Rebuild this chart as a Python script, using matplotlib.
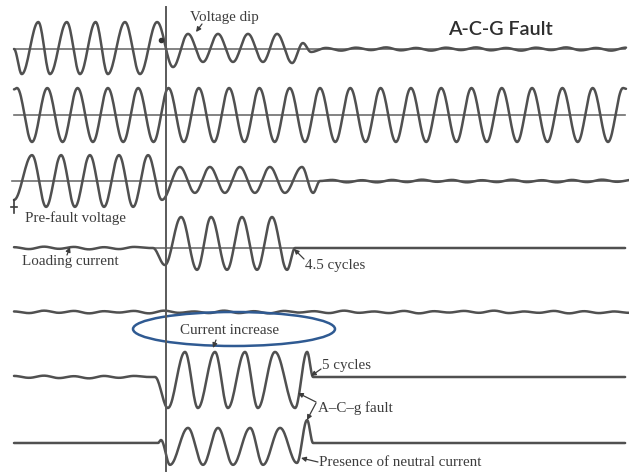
"""
A-C-G fault record: phase voltages, phase currents and neutral current.
"""

import numpy as np
import matplotlib
matplotlib.use('Agg')
import matplotlib.pyplot as plt
from matplotlib.patches import Ellipse

# ── Data: extrema of each trace (time in cycles, value in per unit) ─────────
va_t = [0.0, 0.26, 0.81, 1.2, 1.76, 2.2, 2.72, 3.13, 3.7, 4.2, 4.77,
        5.3, 5.8, 6.3, 6.8, 7.3, 7.8, 8.3, 8.77, 9.27, 9.63, 9.9]
va_v = [0.0, -0.93, 1.0, -0.93, 1.0, -0.93, 1.0, -0.93, 1.0, -0.93, 1.0,
        -0.67, 0.56, -0.48, 0.56, -0.48, 0.56, -0.48, 0.56, -0.52, 0.22, -0.11]
va_ripple = [0.04, -0.06, 0.05, -0.04, 0.06, -0.05, 0.04, -0.06, 0.05, -0.04,
             0.06, -0.05, 0.04, -0.06, 0.05, -0.04, 0.06, -0.05, 0.04, -0.06, 0.05]

vb_t = [0.0, 0.1, 0.6, 1.11, 1.62, 2.12, 2.63, 3.13, 3.64, 4.14, 4.65,
        5.15, 5.66, 6.16, 6.67, 7.17, 7.68, 8.18, 8.69, 9.19, 9.7,
        10.2, 10.71, 11.21, 11.72, 12.22, 12.73, 13.23, 13.74, 14.24, 14.75,
        15.25, 15.76, 16.26, 16.77, 17.27, 17.78, 18.28, 18.79, 19.29, 19.8,
        20.3, 20.4]
vb_v = [0.95, 1.0, -1.0, 1.0, -1.0, 1.0, -1.0, 1.0, -1.0, 1.0, -1.0,
        1.0, -1.0, 1.0, -1.0, 1.0, -1.0, 1.0, -1.0, 1.0, -1.0,
        1.0, -1.0, 1.0, -1.0, 1.0, -1.0, 1.0, -1.0, 1.0, -1.0,
        1.0, -1.0, 1.0, -1.0, 1.0, -1.0, 1.0, -1.0, 1.0, -1.0,
        1.0, 0.97]

vc_t = [0.0, 0.6, 1.07, 1.57, 2.03, 2.53, 3.0, 3.5, 3.97, 4.47, 4.93,
        5.53, 6.03, 6.53, 7.03, 7.53, 8.03, 8.53, 9.03, 9.6, 9.97, 10.2]
vc_v = [-0.7, 0.96, -0.96, 0.96, -0.96, 0.96, -0.96, 0.96, -0.96, 0.96, -0.7,
        0.52, -0.44, 0.52, -0.44, 0.52, -0.44, 0.52, -0.44, 0.52, -0.44, 0.0]
vc_ripple = [0.04, -0.05, 0.03, -0.05, 0.04, -0.04, 0.05, -0.03, 0.04, -0.05,
             0.03, -0.04, 0.05, -0.04, 0.03, -0.05, 0.04, -0.04, 0.05, -0.03, 0.04]

ia_ripple = [0.03, -0.04, 0.05, -0.03, 0.04, -0.05, 0.03, -0.04, 0.04, 0.0]
ia_t = [4.63, 5.03, 5.57, 6.1, 6.57, 7.1, 7.6, 8.1, 8.6, 9.1, 9.37, 20.37]
ia_v = [0.0, -0.63, 1.15, -0.81, 1.15, -0.81, 1.15, -0.81, 1.15, -0.81, 0.0, 0.0]

ib_ripple = [0.02, -0.04, 0.05, -0.03, 0.04, -0.05, 0.03, -0.02, 0.04, -0.05,
             0.05, -0.03, 0.02, -0.04, 0.05, -0.04, 0.03, -0.05, 0.04, -0.02,
             0.03, -0.04, 0.05, -0.03, 0.02, -0.04, 0.04, -0.05, 0.03, -0.02,
             0.04, -0.03, 0.05, -0.04, 0.02, -0.03, 0.04, -0.05, 0.03, -0.04,
             0.02, -0.03]

ic_ripple = [0.04, -0.03, 0.05, -0.04, 0.03, -0.05, 0.04, -0.03, 0.04, 0.0]
ic_t = [4.7, 5.13, 5.7, 6.13, 6.7, 7.13, 7.7, 8.13, 8.7, 9.37, 9.77, 9.97, 20.37]
ic_v = [0.0, -1.15, 0.93, -1.15, 0.93, -1.15, 0.93, -1.15, 0.93, -1.15, 0.93, 0.0, 0.0]

in_t = [0.0, 4.8, 4.9, 5.2, 5.8, 6.3, 6.8, 7.3, 7.87, 8.3, 8.87, 9.43, 9.77, 9.97, 20.37]
in_v = [0.0, 0.0, 0.11, -0.81, 0.56, -0.81, 0.56, -0.81, 0.56, -0.81, 0.56,
        -0.74, 0.85, 0.0, 0.0]

# ── Layout (pixels of the 629x474 picture) ──────────────────────────────────
W, H = 629, 474
X0, PX_CYC, PX_PU = 14, 30.0, 27.0
FAULT_X = 166
WAVE = '#505050'
AXIS = '#6e6e6e'
TXT = '#3c3c3c'
SERIF = ['Liberation Serif', 'DejaVu Serif']


def eased(ts, vs, n=20):
    """Smooth half-cosine segments between successive extrema."""
    out_t, out_v = [ts[0]], [vs[0]]
    s = np.linspace(0, 1, n)[1:]
    for i in range(len(ts) - 1):
        out_t.extend(ts[i] + (ts[i + 1] - ts[i]) * s)
        out_v.extend(vs[i] + (vs[i + 1] - vs[i]) * (1 - np.cos(np.pi * s)) / 2)
    return np.array(out_t), np.array(out_v)


def ripple_times(t0, vals):
    return [t0 + 0.5 * i for i in range(len(vals))]


traces = [
    # row, times, values, axis line span (cycles) or None
    (49, va_t + ripple_times(10.4, va_ripple), va_v + va_ripple, (0.0, 20.37)),
    (115, vb_t, vb_v, (0.0, 20.37)),
    (181, vc_t + ripple_times(10.6, vc_ripple), vc_v + vc_ripple, (-0.07, 20.37)),
    (248, ripple_times(0.0, ia_ripple) + ia_t, ia_ripple + ia_v, (4.63, 20.37)),
    (312, ripple_times(0.0, ib_ripple), ib_ripple, None),
    (377, ripple_times(0.0, ic_ripple) + ic_t, ic_ripple + ic_v, None),
    (443, in_t, in_v, None),
]

fig = plt.figure(figsize=(W / 100, H / 100), dpi=100)
fig.patch.set_facecolor('white')

span = 1.4
h_ax = 2 * span * PX_PU
for row, ts, vs, axis_span in traces:
    ax = fig.add_axes([0, (H - row - h_ax / 2) / H, 1, h_ax / H])
    ax.set_xlim(-X0 / PX_CYC, (W - X0) / PX_CYC)
    ax.set_ylim(-span, span)
    ax.axis('off')
    ax.patch.set_alpha(0)
    if axis_span is not None:
        ax.plot(axis_span, [0, 0], color=AXIS, lw=1.2)
    t, v = eased(ts, vs)
    ax.plot(t, v, color=WAVE, lw=1.8, clip_on=False, solid_capstyle='round')

# ── Overlay: fault instant, notes, highlight ────────────────────────────────
ov = fig.add_axes([0, 0, 1, 1])
ov.set_xlim(0, W)
ov.set_ylim(H, 0)
ov.axis('off')
ov.patch.set_alpha(0)

ov.plot([FAULT_X, FAULT_X], [7, 471], color='#5a5a5a', lw=1.4)
ov.plot([161], [40], marker='o', ms=3, color='#333333')
ov.plot([14, 14], [200, 213], color=TXT, lw=1.2)
ov.plot([11, 17], [207, 207], color=TXT, lw=1.2)

ov.text(448, 29, 'A-C-G Fault', fontsize=14.2, color='#2e2e2e',
        family=['Lato', 'DejaVu Sans'], fontweight='semibold',
        va='center', ha='left')

notes = [
    ('Voltage dip', 190, 17, (196, 32), (202, 24)),
    ('Pre-fault voltage', 25, 218, None, None),
    ('Loading current', 22, 261, (70, 247), (67, 255)),
    ('4.5 cycles', 305, 265, (294, 249), (304, 259)),
    ('Current increase', 180, 330, (213, 348), (216, 340)),
    ('5 cycles', 322, 365, (311, 376), (321, 369)),
    ('A\u2013C\u2013g fault', 318, 408, (298, 393), (316, 402)),
    ('Presence of neutral current', 319, 462, (301, 458), (318, 462)),
]
for label, x, y, tip, tail in notes:
    ov.text(x, y, label, fontsize=10.8, color=TXT, family=SERIF,
            va='center', ha='left')
    if tip is not None:
        ov.annotate('', xy=tip, xytext=tail,
                    arrowprops=dict(arrowstyle='-|>', lw=0.9, color=TXT,
                                    mutation_scale=7, shrinkA=0, shrinkB=0))
# second pointer of the A-C-g note
ov.annotate('', xy=(307, 420), xytext=(316, 403),
            arrowprops=dict(arrowstyle='-|>', lw=0.9, color=TXT,
                            mutation_scale=7, shrinkA=0, shrinkB=0))

ov.add_patch(Ellipse((234, 329), 202, 34, fill=False,
                     edgecolor='#2f5a92', lw=1.8))

fig.savefig('out.png', dpi=100)
